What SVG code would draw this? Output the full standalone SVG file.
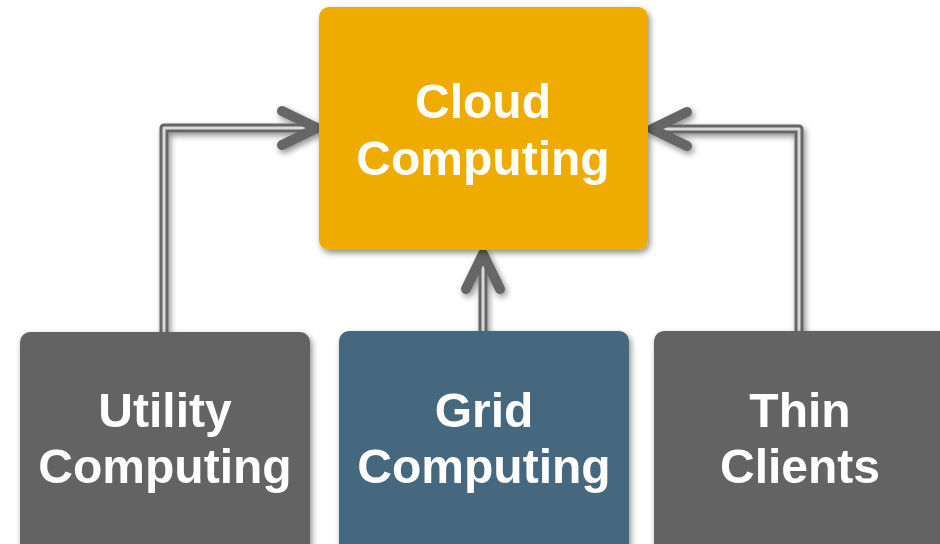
<svg xmlns="http://www.w3.org/2000/svg" width="940" height="544" viewBox="0 0 940 544">
  <defs>
    <filter id="shadow" x="-10%" y="-10%" width="125%" height="125%">
      <feGaussianBlur in="SourceAlpha" stdDeviation="3"/>
      <feOffset dx="2" dy="3" result="b"/>
      <feComponentTransfer><feFuncA type="linear" slope="0.45"/></feComponentTransfer>
      <feMerge><feMergeNode/><feMergeNode in="SourceGraphic"/></feMerge>
    </filter>
  </defs>
  <style>
    .label { font-family: "Liberation Sans", Arial, sans-serif; font-weight: bold; font-size: 48px; fill: #ffffff; text-anchor: middle; }
    .pipe-out { fill: none; stroke: #666666; stroke-width: 9; stroke-linejoin: round; }
    .pipe-in { fill: none; stroke: #d9d9d9; stroke-width: 3; stroke-linejoin: round; }
    .head { fill: none; stroke: #666666; stroke-width: 10; stroke-linecap: round; stroke-linejoin: round; }
  </style>

  <rect width="940" height="544" fill="#ffffff"/>

  <!-- connectors: double-line pipes with open chevron heads -->
  <g id="connectors" filter="url(#shadow)">
    <path class="pipe-out" d="M164,334 V128 H312"/>
    <path class="pipe-in" d="M164,334 V128 H312"/>
    <polyline class="head" points="282,111 317,128 282,145"/>

    <path class="pipe-out" d="M799,334 V129 H656"/>
    <path class="pipe-in" d="M799,334 V129 H656"/>
    <polyline class="head" points="687,112 652,129 687,146"/>

    <path class="pipe-out" d="M483,333 V256"/>
    <path class="pipe-in" d="M483,333 V256"/>
    <polyline class="head" points="466,289 483,254 500,289"/>
  </g>

  <g id="cloud-computing" filter="url(#shadow)">
    <rect x="319" y="7" width="329" height="243" rx="10" fill="#efab00"/>
    <text class="label" x="483" y="118">Cloud</text>
    <text class="label" x="483" y="175">Computing</text>
  </g>

  <g id="utility-computing" filter="url(#shadow)">
    <rect x="20" y="332" width="290" height="230" rx="10" fill="#646464"/>
    <text class="label" x="165" y="427">Utility</text>
    <text class="label" x="165" y="483">Computing</text>
  </g>

  <g id="grid-computing" filter="url(#shadow)">
    <rect x="339" y="331" width="290" height="230" rx="10" fill="#44687e"/>
    <text class="label" x="484" y="427">Grid</text>
    <text class="label" x="484" y="483">Computing</text>
  </g>

  <g id="thin-clients" filter="url(#shadow)">
    <rect x="654" y="331" width="300" height="230" rx="10" fill="#646464"/>
    <text class="label" x="800" y="427">Thin</text>
    <text class="label" x="800" y="483">Clients</text>
  </g>
</svg>
